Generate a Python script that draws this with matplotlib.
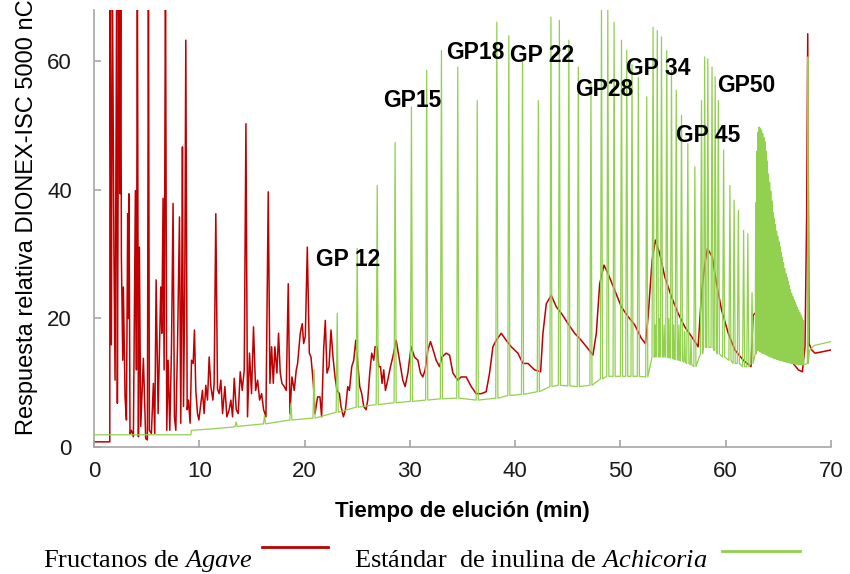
import numpy as np
import matplotlib
matplotlib.use("Agg")
import matplotlib.pyplot as plt
from matplotlib.patches import Rectangle
from matplotlib.lines import Line2D

# cursivas de la leyenda en Times (Liberation Serif)
plt.rcParams["mathtext.fontset"] = "custom"
plt.rcParams["mathtext.rm"] = "Liberation Serif"
plt.rcParams["mathtext.it"] = "Liberation Serif:italic"

red_t = [0, 1.50, 1.52, 1.65, 1.74, 1.90, 2.00, 2.16, 2.22, 2.28, 2.38, 2.47, 2.54, 2.60,
         2.73, 2.79, 2.95, 3.08, 3.20, 3.27, 3.33, 3.42, 3.55, 3.74, 3.93, 4.03, 4.12, 4.22,
         4.31, 4.44, 4.69, 4.91, 5.07, 5.17, 5.26, 5.45, 5.64, 5.77, 5.90, 6.09, 6.34, 6.44,
         6.56, 6.66, 6.79, 6.91, 7.04, 7.20, 7.36, 7.51, 7.64, 7.77, 7.93, 8.12, 8.24, 8.34,
         8.40, 8.50, 8.62, 8.72, 8.85, 8.97, 9.13, 9.26, 9.42, 9.54, 9.67, 9.83, 9.96, 10.15,
         10.30, 10.46, 10.62, 10.78, 10.94, 11.10, 11.29, 11.41, 11.57, 11.73, 11.89, 12.05,
         12.21, 12.43, 12.62, 12.84, 13.00, 13.16, 13.32, 13.51, 13.70, 13.89, 14.08, 14.27,
         14.43, 14.58, 14.77, 14.96, 15.15, 15.35, 15.54, 15.73, 15.92, 16.11, 16.33, 16.55,
         16.71, 16.87, 17.03, 17.18, 17.37, 17.53, 17.69, 17.85, 18.07, 18.26, 18.45, 18.61,
         18.80, 19.02, 19.21, 19.34, 19.59, 19.78, 19.91, 20.07, 20.26, 20.45, 20.61, 20.83,
         20.99, 21.24, 21.46, 21.62, 21.81, 21.97, 22.13, 22.32, 22.51, 22.70, 22.89, 23.08,
         23.31, 23.46, 23.69, 23.88, 24.10, 24.26, 24.48, 24.67, 24.86, 25.05, 25.24, 25.43,
         25.62, 25.84, 26.00, 26.19, 26.38, 26.57, 26.70, 26.89, 27.05, 27.21, 27.36, 27.52,
         27.68, 27.90, 28.16, 28.38, 28.70, 29.01, 29.33, 29.55, 29.81, 30.12, 30.44, 30.76,
         31.01, 31.23, 31.45, 31.71, 31.96, 32.21, 32.50, 32.82, 33.04, 33.45, 33.77, 34.09,
         34.56, 34.87, 35.35, 35.83, 36.30, 36.78, 37.25, 37.57, 37.89, 38.20, 38.68, 39.15,
         39.63, 40.26, 40.74, 41.22, 41.85, 42.42, 42.64, 42.96, 43.43, 43.91, 44.39, 45.02,
         45.65, 46.28, 46.92, 47.39, 47.71, 48.03, 48.44, 48.82, 49.45, 50.09, 50.72, 51.36,
         51.99, 52.37, 52.63, 53.01, 53.32, 53.73, 54.21, 54.84, 55.48, 56.11, 56.75, 57.38,
         57.70, 58.02, 58.27, 58.72, 59.13, 59.61, 60.24, 60.87, 61.67, 62.40, 62.60, 62.90,
         63.50, 64.20, 64.80, 65.60, 66.26, 66.90, 67.28, 67.53, 67.69, 67.79, 67.91, 68.17,
         68.48, 69.12, 70.00]
red_v = [0.8, 0.8, 75, 15.9, 75, 28.8, 10.4, 75, 6.8, 35.8, 75, 39.4, 75, 29.6,
         13.5, 24.9, 7.8, 4.2, 36.3, 20.0, 39.4, 2.1, 2.6, 1.6, 39.9, 12.0, 75, 1.6,
         31.1, 3.2, 13.8, 1.3, 1.1, 75, 2.6, 2.1, 9.9, 2.1, 26.0, 5.2, 24.9, 17.7,
         38.7, 12.0, 75, 2.6, 13.5, 2.6, 15.6, 37.9, 4.7, 2.6, 15.6, 35.8, 3.7, 27.0,
         46.7, 6.3, 24.4, 63.3, 5.8, 7.3, 3.7, 13.5, 13.0, 18.2, 8.8, 5.2, 4.2, 6.8,
         8.8, 5.2, 9.6, 7.3, 14.0, 9.4, 7.3, 9.9, 36.3, 9.0, 8.3, 10.4,
         5.2, 9.4, 4.7, 5.8, 7.3, 4.7, 10.7, 5.8, 5.2, 11.7, 8.8, 12.0,
         50.3, 4.7, 14.6, 8.3, 18.7, 8.8, 10.4, 7.3, 8.3, 5.8, 4.7, 39.7,
         9.9, 15.6, 9.9, 15.6, 11.5, 17.7, 11.5, 9.9, 9.4, 8.8, 25.4, 5.2,
         10.9, 8.8, 12.0, 13.0, 17.7, 19.2, 16.1, 17.2, 31.1, 14.6, 14.0, 9.9,
         5.2, 7.8, 7.8, 4.7, 15.1, 19.7, 11.5, 12.5, 18.2, 14.0, 10.9, 8.8,
         8.3, 6.3, 4.7, 5.8, 9.4, 8.8, 12.5, 13.5, 16.6, 13.0, 9.4, 8.3,
         6.3, 5.8, 7.3, 11.5, 14.6, 13.5, 15.6, 15.6, 12.5, 12.5, 9.9, 12.0,
         8.8, 10.4, 12.5, 14.0, 16.6, 13.5, 10.4, 9.4, 11.5, 15.6, 14.0, 13.5,
         11.5, 10.9, 12.0, 15.1, 16.4, 15.1, 13.5, 12.5, 14.0, 14.6, 14.3, 11.5,
         10.4, 10.9, 10.9, 9.4, 8.3, 8.3, 8.6, 11.5, 15.6, 16.6, 17.7, 16.6,
         15.6, 14.6, 13.0, 13.0, 12.0, 11.7, 17.7, 22.3, 23.6, 21.8, 20.8, 19.2,
         17.7, 16.6, 15.3, 14.3, 17.7, 25.4, 28.3, 27.0, 24.4, 21.8, 20.3, 19.0,
         16.9, 16.1, 20.3, 29.1, 32.2, 30.1, 26.5, 23.4, 20.8, 18.7, 17.2, 15.6,
         23.9, 28.5, 30.9, 29.6, 25.4, 21.3, 17.7, 15.1, 13.5, 12.5, 20.5, 21.0,
         20.0, 19.5, 18.7, 15.6, 13.3, 12.0, 11.7, 15.6, 36.3, 64.3, 16.1, 15.1,
         14.6, 14.8, 15.1]

# Estandar de inulina (traza verde): linea base inicial y final
green_start_t = [0, 9.20, 9.25, 11.0, 13.2]
green_start_v = [1.9, 1.9, 2.6, 2.8, 3.1]
green_end_t = [67.95, 68.40, 70.0]
green_end_v = [15.0, 15.8, 16.4]

# picos principales: tiempo, altura, nivel del pie
peak_t = [13.5, 16.2, 18.7, 20.9, 23.1, 25.0, 26.9, 28.6, 30.15, 31.6, 33.0, 34.55, 36.4,
          38.26, 39.4, 40.7, 42.2, 43.4, 44.2, 45.1, 46.0, 47.2, 48.2, 48.8, 49.4, 50.1,
          50.6, 51.1, 51.7, 52.5, 53.1, 53.5, 53.9, 54.4, 54.85, 55.3, 55.8, 56.4, 57.07,
          57.7, 58.0, 58.3, 58.7, 59.0, 59.3, 59.8, 60.4, 60.8, 61.2, 61.7, 62.1, 62.5]
peak_h = [3.9, 5.0, 6.8, 12.0, 20.8, 30.9, 40.7, 47.4, 52.9, 58.6, 61.7, 59.1, 53.9,
          66.1, 64.0, 59.9, 53.9, 66.9, 66.4, 63.3, 59.1, 56.5, 69.0, 68.5, 66.1, 63.3,
          61.7, 59.5, 57.5, 54.5, 65.3, 64.8, 63.8, 61.7, 58.6, 55.5, 51.6, 47.2, 43.6,
          53.9, 60.7, 60.4, 59.1, 57.6, 53.9, 46.2, 40.7, 38.4, 36.8, 33.7, 33.2, 24.0]
peak_foot = [3.2, 3.6, 4.2, 4.5, 5.4, 6.2, 6.6, 6.9, 7.1, 7.3, 7.5, 7.6, 7.3,
             7.6, 8.0, 8.2, 8.6, 9.4, 9.6, 9.5, 9.4, 9.6, 10.6, 11.0, 11.0, 11.0,
             11.0, 11.0, 11.0, 10.9, 14.0, 14.0, 14.0, 14.0, 13.8, 13.6, 13.4, 13.0, 12.5,
             14.5, 15.5, 15.5, 15.5, 15.0, 14.5, 14.0, 13.5, 13.0, 13.0, 12.5, 12.5, 13.0]

# picos menores entre GP 30 y GP 42
mini_t = [53.3, 53.7, 54.15, 54.6, 55.05, 55.55, 56.1, 56.7]
mini_h = [19.0, 20.0, 19.0, 20.0, 19.0, 19.0, 18.0, 17.0]
mini_foot = [14.0, 14.0, 14.0, 13.9, 13.7, 13.5, 13.2, 12.8]

# paquete denso de oligomeros largos (63-67 min) y pico final
pack_t = [62.85, 62.96, 63.07, 63.18, 63.29, 63.40, 63.51, 63.62, 63.73, 63.84, 63.95,
          64.06, 64.17, 64.28, 64.39, 64.50, 64.61, 64.72, 64.83, 64.94, 65.05, 65.16,
          65.27, 65.38, 65.49, 65.60, 65.71, 65.82, 65.93, 66.04, 66.15, 66.26, 66.37,
          66.48, 66.59, 66.70, 66.81, 66.92, 67.03, 67.14, 67.25, 67.36, 67.80]
pack_h = [38.0, 46.0, 49.0, 49.8, 49.6, 49.3, 48.8, 48.2, 47.5, 46.0, 44.5,
          42.5, 41.2, 39.8, 38.3, 36.5, 35.6, 34.6, 33.6, 32.8, 32.0, 31.2,
          30.3, 29.5, 28.7, 27.8, 27.0, 26.4, 25.8, 25.1, 24.5, 23.9, 23.4,
          22.9, 22.5, 22.1, 21.7, 21.3, 20.9, 20.5, 20.1, 19.7, 60.7]
pack_foot = [14.5, 15.0, 15.0, 15.0, 14.8, 14.8, 14.6, 14.6, 14.5, 14.4, 14.3,
             14.2, 14.1, 14.0, 14.0, 13.9, 13.8, 13.8, 13.7, 13.6, 13.6, 13.5,
             13.5, 13.4, 13.4, 13.3, 13.3, 13.2, 13.2, 13.1, 13.1, 13.0, 13.0,
             13.0, 12.9, 12.9, 12.9, 12.8, 12.8, 12.8, 12.8, 12.8, 13.0]

gp_labels = ["GP 12", "GP15", "GP18", "GP 22", "GP28", "GP 34", "GP 45", "GP50"]
gp_x = [21.06, 27.5, 33.4, 39.5, 45.7, 50.5, 55.3, 59.2]
gp_y = [29.1, 53.9, 61.4, 60.9, 55.6, 58.9, 48.5, 56.3]

RED = "#C00000"
GREEN = "#92D050"
GREY = "#A6A6A6"

# armar la polilinea verde: pie - apice - pie para cada pico
peaks = []
for t, h, f in zip(peak_t, peak_h, peak_foot):
    peaks.append((t, h, f, 0.10))
for t, h, f in zip(mini_t, mini_h, mini_foot):
    peaks.append((t, h, f, 0.07))
for t, h, f in zip(pack_t, pack_h, pack_foot):
    peaks.append((t, h, f, 0.045))
peaks.sort()

g_t = list(green_start_t)
g_v = list(green_start_v)
for t, h, f, w in peaks:
    g_t += [t - w, t, t + w]
    g_v += [f, h, f]
g_t += green_end_t
g_v += green_end_v

fig = plt.figure(figsize=(8.5, 5.74), dpi=100)
ax = fig.add_axes([94 / 850, 1 - 447 / 574, (831 - 94) / 850, (447 - 10) / 574])

ax.plot(red_t, red_v, color=RED, lw=1.1, zorder=2)
ax.plot(g_t, g_v, color=GREEN, lw=0.9, zorder=3)

ax.set_xlim(0, 70)
ax.set_ylim(0, 68)
ax.set_xticks(np.arange(0, 71, 10))
ax.set_yticks([0, 20, 40, 60])
for s in ["top", "right"]:
    ax.spines[s].set_visible(False)
for s in ["left", "bottom"]:
    ax.spines[s].set_color(GREY)
    ax.spines[s].set_linewidth(1.2)
ax.tick_params(axis="both", direction="in", length=5, width=1.2, color=GREY)
ax.tick_params(axis="x", pad=10)
ax.tick_params(axis="y", pad=16)
for lab in ax.get_xticklabels() + ax.get_yticklabels():
    lab.set_fontfamily("Liberation Sans")
    lab.set_fontsize(16)
    lab.set_color("#1a1a1a")

ax.set_xlabel("Tiempo de elución (min)", family="Liberation Sans",
              fontsize=16, fontweight="bold", labelpad=14)
fig.text(27 / 850, 1 - 435 / 574, "Respuesta relativa DIONEX-ISC 5000 nC",
         rotation=90, ha="center", va="bottom", family="Liberation Sans", fontsize=17)

for lab, x, y in zip(gp_labels, gp_x, gp_y):
    ax.text(x, y, lab, ha="left", va="center", family="Liberation Sans",
            fontsize=16.5, fontweight="bold", zorder=5)

# leyenda inferior (estilo del documento original)
fig.text(43 / 850, 1 - 567 / 574, "Fructanos de $\\mathit{Agave}$", family="Liberation Serif",
         fontsize=19, va="baseline", ha="left")
fig.patches.append(Rectangle((244 / 850, 0), 95 / 850, 40 / 574, transform=fig.transFigure,
                             facecolor="white", edgecolor="none", zorder=3))
fig.lines.append(Line2D([262 / 850, 328 / 850], [1 - 547 / 574, 1 - 547 / 574],
                        transform=fig.transFigure, color=RED, lw=2.0, zorder=4))
fig.text(354 / 850, 1 - 567 / 574, "Estándar  de inulina de $\\mathit{Achicoria}$",
         family="Liberation Serif", fontsize=19, va="baseline", ha="left")
fig.lines.append(Line2D([722 / 850, 800 / 850], [1 - 551 / 574, 1 - 551 / 574],
                        transform=fig.transFigure, color=GREEN, lw=2.0, zorder=4))

fig.savefig("out.png", dpi=100)
